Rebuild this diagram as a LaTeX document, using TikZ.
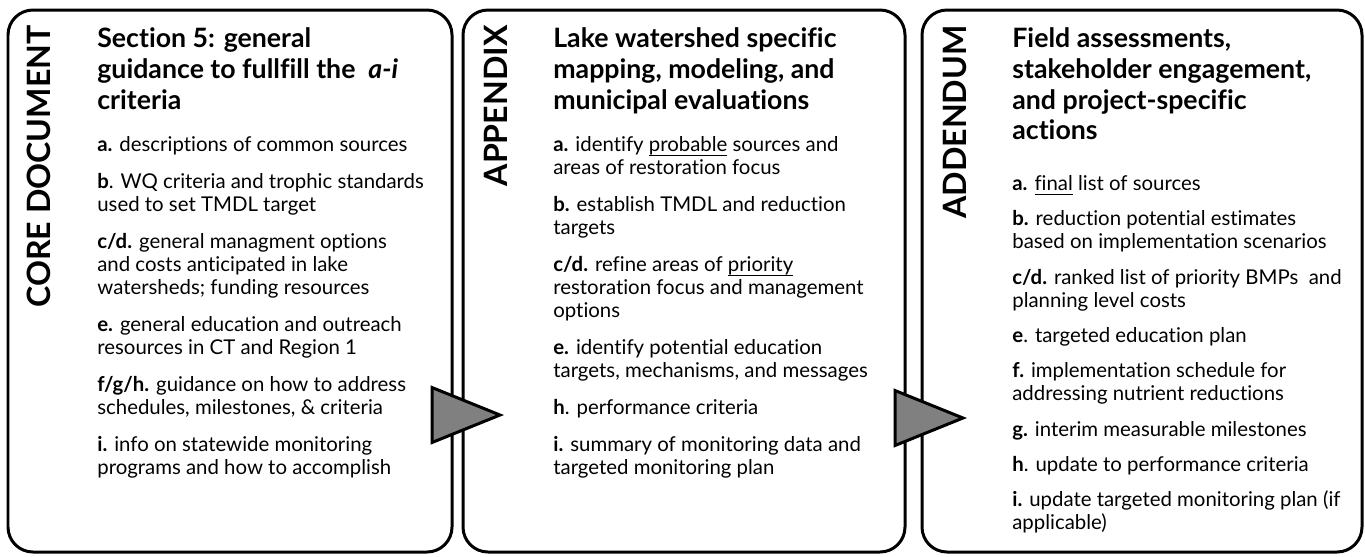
\documentclass[tikz,border=0pt]{standalone}
\usepackage{fontspec}
\setmainfont{Lato}[Ligatures=NoCommon]
\usetikzlibrary{fit}

\definecolor{tipgray}{HTML}{808080}

% font sizes for the three kinds of text
\newcommand\sidefont{\fontsize{18.3}{22}\selectfont\bfseries}
\newcommand\headfont{\fontsize{15.2}{17.6}\selectfont\bfseries}
\newcommand\listfont{\fontsize{11.6}{13.1}\selectfont}
\newcommand\gap{\\[8pt]}
\newcommand\tightgap{\\[7pt]}
% underline sitting just under the descenders
\newcommand\ulword[1]{\setbox0\hbox{#1}\rlap{\rule[-2.4pt]{\wd0}{0.55pt}}\box0\relax}

\begin{document}
\begin{tikzpicture}[
    x=0.02cm, % one unit is one pixel of the layout
    y=-0.02cm, % y runs downwards
    panel/.style={draw, line width=1.7pt, rounded corners=0.5cm, inner sep=0pt},
    side label/.style={rotate=90, anchor=base east, inner sep=0pt, font=\sidefont},
    heading/.style={anchor=north west, align=left, inner sep=0pt, font=\headfont},
    items/.style={anchor=north west, align=left, inner sep=0pt, font=\listfont},
    flowtip/.style={draw, fill=tipgray, line width=1.7pt, line join=miter}
    ]

\useasboundingbox (0,0) rectangle (1365,556);

% --- Three panels ---
\foreach \name/\left/\right in {core/8/452, appx/463/905, adden/922/1362} {
    \node[panel, fit={(\left,10) (\right,552)}] (\name) {};
}

% --- Vertical side labels ---
\node[side label] (core-side) at (51,25) {CORE DOCUMENT};
\node[side label] (appx-side) at (507,25) {APPENDIX};
\node[side label] (adden-side) at (966,25) {ADDENDUM};

% --- Headings ---
\node[heading] (core-head) at (97,27)
    {Section 5: general\\guidance to fullfill the~ \textit{a-i}\\criteria};
\node[heading] (appx-head) at (553,27)
    {Lake watershed specific\\mapping, modeling, and\\municipal evaluations};
\node[heading] (adden-head) at (1012,27)
    {Field assessments,\\stakeholder engagement,\\and project-specific\\actions};

% --- Item lists ---
\node[items] (core-list) at (97,136) {%
    \textbf{a.} descriptions of common sources\gap
    \textbf{b}. WQ criteria and trophic standards\\used to set TMDL target\gap
    \textbf{c/d.} general managment options\\and costs anticipated in lake\\watersheds; funding resources\gap
    \textbf{e.} general education and outreach\\resources in CT and Region 1\gap
    \textbf{f/g/h.} guidance on how to address\\schedules, milestones, \& criteria\gap
    \textbf{i.} info on statewide monitoring\\programs and how to accomplish};

\node[items] (appx-list) at (553,136) {%
    \textbf{a.} identify \ulword{probable} sources and\\areas of restoration focus\gap
    \textbf{b.} establish TMDL and reduction\\targets\gap
    \textbf{c/d.} refine areas of \ulword{priority}\\restoration focus and management\\options\gap
    \textbf{e.} identify potential education\\targets, mechanisms, and messages\gap
    \textbf{h}. performance criteria\gap
    \textbf{i.} summary of monitoring data and\\targeted monitoring plan};

\node[items] (adden-list) at (1012,175) {%
    \textbf{a.} \ulword{final} list of sources\tightgap
    \textbf{b.} reduction potential estimates\\based on implementation scenarios\tightgap
    \textbf{c/d.} ranked list of priority BMPs~ and\\planning level costs\tightgap
    \textbf{e}. targeted education plan\tightgap
    \textbf{f.} implementation schedule for\\addressing nutrient reductions\tightgap
    \textbf{g.} interim measurable milestones\tightgap
    \textbf{h}. update to performance criteria\tightgap
    \textbf{i.} update targeted monitoring plan (if\\applicable)};

% --- Flow arrows between the panels ---
\coordinate (tip1) at (500,415);
\coordinate (tip2) at (963,418);
\foreach \t in {tip1, tip2} {
    \draw[flowtip] (\t) -- ++(-68,-27.5) -- ++(0,55) -- cycle;
}

\end{tikzpicture}
\end{document}
